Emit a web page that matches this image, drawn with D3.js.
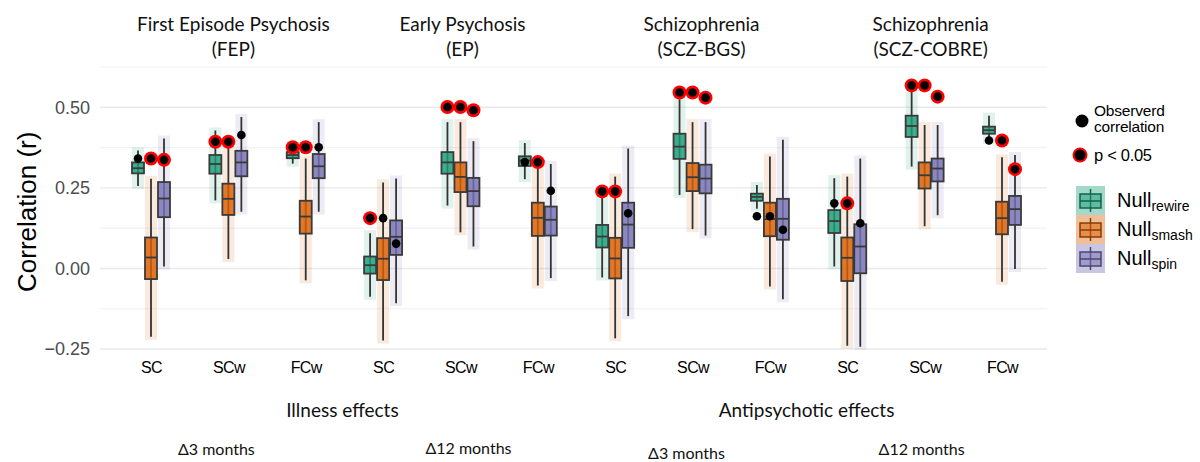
<!DOCTYPE html>
<html>
<head>
<meta charset="utf-8">
<script src="https://cdn.jsdelivr.net/npm/d3@7"></script>
<style>
body { margin: 0; background: #fff; }
svg { display: block; font-family: "Liberation Sans", Arial, sans-serif; }
.cal { font-family: Lato, "Open Sans", sans-serif; }
</style>
</head>
<body>
<svg id="chart" width="1200" height="462"></svg>
<script>
var panels = [["First Episode Psychosis", "(FEP)"], ["Early Psychosis", "(EP)"],
              ["Schizophrenia", "(SCZ-BGS)"], ["Schizophrenia", "(SCZ-COBRE)"]];
var measures = ["SC", "SCw", "FCw"];
var nulls = ["rewire", "smash", "spin"];
var colors = ["#1b9e77", "#d95f02", "#7570b3"];
var effects = ["Illness effects", "Antipsychotic effects"];
var intervals = ["\u03943 months", "\u039412 months", "\u03943 months", "\u039412 months"];
var yTicks = [-0.25, 0, 0.25, 0.5];
var yGrid = [-0.25, -0.125, 0, 0.125, 0.25, 0.375, 0.5, 0.625];

// [lower whisker, q1, median, q3, upper whisker], one per group (panel x measure)
var rewireBox = [
  [0.256, 0.295, 0.311, 0.329, 0.366], [0.211, 0.294, 0.324, 0.352, 0.428], [0.325, 0.342, 0.352, 0.361, 0.372],
  [-0.088, -0.016, 0.010, 0.037, 0.109], [0.195, 0.294, 0.329, 0.361, 0.454], [0.277, 0.318, 0.335, 0.348, 0.389],
  [-0.028, 0.065, 0.099, 0.135, 0.223], [0.228, 0.340, 0.378, 0.418, 0.525], [0.185, 0.210, 0.222, 0.232, 0.259],
  [0.006, 0.110, 0.147, 0.181, 0.280], [0.316, 0.408, 0.442, 0.474, 0.548], [0.396, 0.418, 0.429, 0.440, 0.474]
];
var smashBox = [
  [-0.212, -0.033, 0.034, 0.096, 0.278], [0.029, 0.166, 0.216, 0.263, 0.375], [-0.037, 0.108, 0.161, 0.210, 0.341],
  [-0.224, -0.036, 0.030, 0.094, 0.267], [0.112, 0.237, 0.284, 0.329, 0.454], [-0.053, 0.101, 0.157, 0.204, 0.316],
  [-0.217, -0.031, 0.031, 0.095, 0.285], [0.122, 0.240, 0.283, 0.327, 0.454], [-0.056, 0.100, 0.153, 0.204, 0.347],
  [-0.240, -0.039, 0.033, 0.096, 0.285], [0.131, 0.248, 0.289, 0.329, 0.445], [-0.041, 0.106, 0.156, 0.207, 0.345]
];
var spinBox = [
  [0.006, 0.159, 0.217, 0.268, 0.403], [0.176, 0.286, 0.329, 0.365, 0.470], [0.176, 0.280, 0.317, 0.355, 0.454],
  [-0.108, 0.042, 0.098, 0.149, 0.279], [0.068, 0.193, 0.240, 0.281, 0.395], [-0.030, 0.102, 0.151, 0.192, 0.324],
  [-0.148, 0.064, 0.136, 0.204, 0.372], [0.102, 0.233, 0.279, 0.322, 0.454], [-0.096, 0.089, 0.154, 0.216, 0.399],
  [-0.243, -0.015, 0.068, 0.137, 0.341], [0.165, 0.270, 0.310, 0.341, 0.445], [-0.002, 0.135, 0.184, 0.225, 0.352]
];

// observed correlation and whether p < 0.05
var rewireObs = [0.341, 0.393, 0.376, 0.156, 0.501, 0.330, 0.239, 0.546, 0.162, 0.202, 0.568, 0.397];
var smashObs  = [0.341, 0.393, 0.376, 0.156, 0.501, 0.330, 0.239, 0.546, 0.162, 0.202, 0.568, 0.397];
var spinObs   = [0.337, 0.414, 0.376, 0.077, 0.491, 0.241, 0.171, 0.530, 0.120, 0.140, 0.533, 0.308];
var rewireSig = [0, 1, 1, 1, 1, 0, 1, 1, 0, 0, 1, 0];
var smashSig  = [1, 1, 1, 0, 1, 1, 1, 1, 0, 1, 1, 1];
var spinSig   = [1, 0, 0, 0, 1, 0, 0, 1, 0, 0, 1, 1];

var boxes = [rewireBox, smashBox, spinBox];
var obs = [rewireObs, smashObs, spinObs];
var sig = [rewireSig, smashSig, spinSig];

var groups = [];
panels.forEach(function(p) { measures.forEach(function(m) { groups.push(m); }); });

var svg = d3.select('#chart');
var left = 100, right = 1047;

var x = d3.scalePoint().domain(d3.range(groups.length)).range([151, 1002]);
var dodge = d3.scaleBand().domain(nulls).range([-19.5, 19.5]);
var y = d3.scaleLinear().domain([-0.25, 0.5]).range([349, 107.3]);

// grid
svg.append('g').selectAll('line')
  .data(yGrid)
  .enter().append('line')
  .attr('x1', left).attr('x2', right)
  .attr('y1', function(d) { return y(d); })
  .attr('y2', function(d) { return y(d); })
  .attr('stroke', function(d) { return yTicks.indexOf(d) >= 0 ? '#e9e9e9' : '#f1f1f1'; })
  .attr('stroke-width', function(d) { return yTicks.indexOf(d) >= 0 ? 1.4 : 1.1; });

// y axis
var yAxis = svg.append('g')
  .attr('transform', 'translate(' + (left - 10) + ',0)')
  .call(d3.axisLeft(y).tickValues(yTicks).tickSize(0).tickFormat(d3.format('.2f')));
yAxis.select('.domain').remove();
yAxis.selectAll('text')
  .attr('font-size', 18).attr('fill', '#4d4d4d')
  .attr('font-family', '"Liberation Sans", Arial, sans-serif')
  .attr('x', 0);

svg.append('text')
  .attr('transform', 'translate(36,292) rotate(-90)')
  .attr('font-size', 26)
  .attr('fill', '#000')
  .text('Correlation (r)');

// x axis
var xAxis = svg.append('g')
  .attr('transform', 'translate(0,359)')
  .call(d3.axisBottom(x).tickSize(0).tickFormat(function(i) { return groups[i]; }));
xAxis.select('.domain').remove();
xAxis.selectAll('text')
  .attr('font-size', 16).attr('fill', '#000')
  .attr('font-family', '"Liberation Sans", Arial, sans-serif')
  .attr('letter-spacing', -0.6);

// panel titles
var titleOffsets = [5, 2, 9, 6];
panels.forEach(function(p, i) {
  var cx = x(i * 3 + 1) + titleOffsets[i];
  var t = svg.append('text').attr('class', 'cal')
    .attr('text-anchor', 'middle').attr('font-size', 19).attr('fill', '#111');
  t.append('tspan').attr('x', cx).attr('y', 31).text(p[0]);
  t.append('tspan').attr('x', cx).attr('y', 56).text(p[1]);
});

// bottom annotations
effects.forEach(function(e, i) {
  svg.append('text').attr('class', 'cal')
    .attr('x', (x(i * 6) + x(i * 6 + 5)) / 2 - 2)
    .attr('y', 417)
    .attr('text-anchor', 'middle').attr('font-size', 19).attr('fill', '#111')
    .text(e);
});
var intervalOffsets = [-12, 8, -6, -3];
var intervalY = [455, 454, 459, 455];
intervals.forEach(function(t, i) {
  svg.append('text').attr('class', 'cal')
    .attr('x', x(i * 3 + 1) + intervalOffsets[i])
    .attr('y', intervalY[i])
    .attr('text-anchor', 'middle').attr('font-size', 16).attr('fill', '#111')
    .text(t);
});

// boxplots
var cells = [];
nulls.forEach(function(n, k) {
  groups.forEach(function(g, i) {
    cells.push({ k: k, i: i, cx: x(i) + dodge(n) + dodge.bandwidth() / 2, s: boxes[k][i],
                 o: obs[k][i], sig: sig[k][i] });
  });
});

var plot = svg.append('g');

plot.selectAll('rect.cloud')
  .data(cells)
  .enter().append('rect')
  .attr('class', 'cloud')
  .attr('x', function(d) { return d.cx - 6; })
  .attr('width', 12)
  .attr('y', function(d) { return y(d.s[4]) - 3; })
  .attr('height', function(d) { return y(d.s[0]) - y(d.s[4]) + 6; })
  .attr('fill', function(d) { return colors[d.k]; })
  .attr('opacity', 0.13);

plot.selectAll('line.whisker')
  .data(cells)
  .enter().append('line')
  .attr('class', 'whisker')
  .attr('x1', function(d) { return d.cx; })
  .attr('x2', function(d) { return d.cx; })
  .attr('y1', function(d) { return y(d.s[4]); })
  .attr('y2', function(d) { return y(d.s[0]); })
  .attr('stroke', '#333').attr('stroke-width', 1.8);

plot.selectAll('rect.box')
  .data(cells)
  .enter().append('rect')
  .attr('class', 'box')
  .attr('x', function(d) { return d.cx - 6; })
  .attr('width', 12)
  .attr('y', function(d) { return y(d.s[3]); })
  .attr('height', function(d) { return y(d.s[1]) - y(d.s[3]); })
  .attr('fill', function(d) { return colors[d.k]; })
  .attr('fill-opacity', 0.82)
  .attr('stroke', '#3a3a3a').attr('stroke-width', 1.8);

plot.selectAll('line.median')
  .data(cells)
  .enter().append('line')
  .attr('class', 'median')
  .attr('x1', function(d) { return d.cx - 6; })
  .attr('x2', function(d) { return d.cx + 6; })
  .attr('y1', function(d) { return y(d.s[2]); })
  .attr('y2', function(d) { return y(d.s[2]); })
  .attr('stroke', '#3a3a3a').attr('stroke-width', 1.8);

plot.selectAll('circle.ring')
  .data(cells.filter(function(d) { return d.sig; }))
  .enter().append('circle')
  .attr('class', 'ring')
  .attr('cx', function(d) { return d.cx; })
  .attr('cy', function(d) { return y(d.o); })
  .attr('r', 7)
  .attr('fill', '#ff0000');

plot.selectAll('circle.obs')
  .data(cells)
  .enter().append('circle')
  .attr('class', 'obs')
  .attr('cx', function(d) { return d.cx; })
  .attr('cy', function(d) { return y(d.o); })
  .attr('r', 4.3)
  .attr('fill', '#000');

// legend
var lg = svg.append('g');
lg.append('circle').attr('cx', 1082).attr('cy', 121).attr('r', 6.5).attr('fill', '#000');
lg.append('text').attr('x', 1094).attr('y', 116).attr('font-size', 15.5)
  .attr('letter-spacing', -0.2).text('Observerd');
lg.append('text').attr('x', 1094).attr('y', 132).attr('font-size', 15.5)
  .attr('letter-spacing', -0.2).text('correlation');
lg.append('circle').attr('cx', 1080).attr('cy', 155).attr('r', 7.5).attr('fill', '#ff0000');
lg.append('circle').attr('cx', 1080).attr('cy', 155).attr('r', 5.5).attr('fill', '#000');
lg.append('text').attr('x', 1094).attr('y', 161).attr('font-size', 16.5).attr('letter-spacing', -0.3)
  .text('p < 0.05');

nulls.forEach(function(n, k) {
  var top = 186 + k * 29;
  var c = d3.color(colors[k]);
  lg.append('rect').attr('x', 1076).attr('y', top).attr('width', 29).attr('height', 29)
    .attr('fill', c).attr('fill-opacity', 0.4);
  var dark = c.darker(1.3);
  lg.append('line').attr('x1', 1090.5).attr('x2', 1090.5).attr('y1', top + 3).attr('y2', top + 26)
    .attr('stroke', dark).attr('stroke-width', 1.5);
  lg.append('rect').attr('x', 1080).attr('y', top + 8).attr('width', 21).attr('height', 14)
    .attr('fill', c).attr('fill-opacity', 0.5).attr('stroke', dark).attr('stroke-width', 1.5);
  lg.append('line').attr('x1', 1080).attr('x2', 1101).attr('y1', top + 15).attr('y2', top + 15)
    .attr('stroke', dark).attr('stroke-width', 1.5);
  var t = lg.append('text').attr('x', 1117).attr('y', top + 21).attr('font-size', 20).attr('fill', '#000');
  t.append('tspan').text('Null');
  t.append('tspan').attr('font-size', 14).attr('dy', 4).text(n);
});
</script>
</body>
</html>
